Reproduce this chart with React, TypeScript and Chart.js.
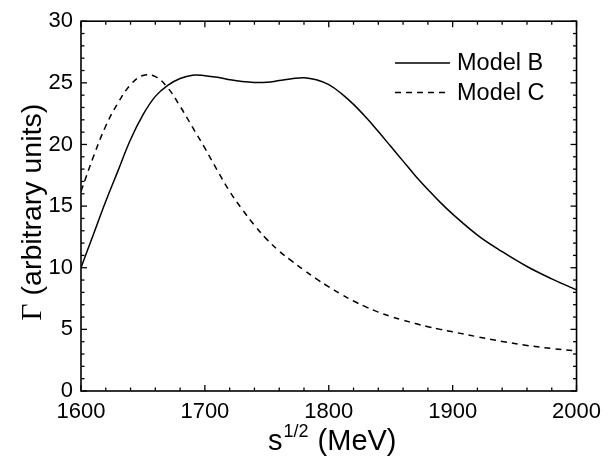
import React, { useEffect, useRef } from "react";
import { Chart, registerables } from "chart.js";

Chart.register(...registerables);

// ---- data ----
const energies = [
  1600, 1610, 1620, 1630, 1640, 1650, 1660, 1670, 1680, 1690, 1700, 1710, 1720,
  1730, 1740, 1750, 1760, 1770, 1780, 1790, 1800, 1810, 1820, 1830, 1840, 1850,
  1860, 1870, 1880, 1890, 1900, 1920, 1940, 1960, 1980, 2000,
];
const modelB = [
  10.0, 12.7, 15.4, 17.9, 20.4, 22.4, 23.9, 24.8, 25.35, 25.62, 25.58, 25.45, 25.25,
  25.1, 25.03, 25.05, 25.18, 25.33, 25.42, 25.25, 24.85, 24.15, 23.25, 22.2, 21.05, 19.85,
  18.65, 17.45, 16.35, 15.3, 14.35, 12.65, 11.3, 10.1, 9.1, 8.2,
];
const modelC = [
  16.2, 19.0, 21.5, 23.4, 24.85, 25.6, 25.5, 24.6, 23.1, 21.4, 19.7, 17.9, 16.2,
  14.75, 13.45, 12.3, 11.35, 10.55, 9.8, 9.1, 8.45, 7.85, 7.3, 6.82, 6.4, 6.05,
  5.75, 5.47, 5.22, 5.0, 4.8, 4.4, 4.02, 3.7, 3.45, 3.25,
];
const seriesLabels = ["Model B", "Model C"];
const xMajorTicks = [1600, 1700, 1800, 1900, 2000];
const xMinorStep = 20;
const yMajorTicks = [0, 5, 10, 15, 20, 25, 30];
const yMinorStep = 1;
const xTitleMain = "s";
const xTitleSup = "1/2";
const xTitleRest = " (MeV)";
const yTitleSymbol = "Γ";
const yTitleRest = " (arbitrary units)";

const SANS = "'Liberation Sans', Arial, sans-serif";
const SERIF = "'Liberation Serif', 'Times New Roman', serif";

const decor = {
  id: "decor",
  afterDraw(chart: any) {
    const { ctx, chartArea: a, scales } = chart;
    const xs = scales.x;
    const ys = scales.y;
    ctx.save();
    ctx.strokeStyle = "#000";
    ctx.lineWidth = 1.6;
    ctx.setLineDash([]);
    ctx.strokeRect(a.left, a.top, a.right - a.left, a.bottom - a.top);

    const seg = (x1: number, y1: number, x2: number, y2: number) => {
      ctx.beginPath();
      ctx.moveTo(x1, y1);
      ctx.lineTo(x2, y2);
      ctx.stroke();
    };
    ctx.lineWidth = 1.3;
    const xMin = xMajorTicks[0];
    const xMax = xMajorTicks[xMajorTicks.length - 1];
    for (let v = xMin; v <= xMax + 1e-6; v += xMinorStep) {
      const px = xs.getPixelForValue(v);
      const major = xMajorTicks.includes(v);
      const len = major ? 6 : 3.5;
      seg(px, a.bottom, px, a.bottom - len);
      seg(px, a.top, px, a.top + len);
    }
    const yMin = yMajorTicks[0];
    const yMax = yMajorTicks[yMajorTicks.length - 1];
    for (let v = yMin; v <= yMax + 1e-6; v += yMinorStep) {
      const py = ys.getPixelForValue(v);
      const major = yMajorTicks.includes(v);
      const len = major ? 6 : 3.5;
      seg(a.left, py, a.left + len, py);
      seg(a.right, py, a.right - len, py);
    }

    // legend
    ctx.fillStyle = "#000";
    ctx.textBaseline = "middle";
    ctx.textAlign = "left";
    ctx.font = `23.5px ${SANS}`;
    chart.data.datasets.forEach((ds: any, i: number) => {
      const ly = 63 + i * 29.5;
      ctx.lineWidth = 1.5;
      ctx.setLineDash(ds.borderDash || []);
      seg(395, ly, 450, ly);
      ctx.setLineDash([]);
      ctx.fillText(ds.label, 457, ly + 1);
    });

    // x title
    ctx.textBaseline = "alphabetic";
    const fMain = `29px ${SANS}`;
    const fSup = `18px ${SANS}`;
    ctx.font = fMain;
    const wS = ctx.measureText(xTitleMain).width;
    const wRest = ctx.measureText(xTitleRest).width;
    ctx.font = fSup;
    const wSup = ctx.measureText(xTitleSup).width;
    const total = wS + wSup + 2 + wRest;
    const cx = (a.left + a.right) / 2 + 3.5;
    let tx = cx - total / 2;
    const base = 450;
    ctx.font = fMain;
    ctx.fillText(xTitleMain, tx, base);
    tx += wS + 1;
    ctx.font = fSup;
    ctx.fillText(xTitleSup, tx, base - 13);
    tx += wSup + 1;
    ctx.font = fMain;
    ctx.fillText(xTitleRest, tx, base);

    // y title
    ctx.save();
    ctx.translate(41, (a.top + a.bottom) / 2 + 6);
    ctx.rotate(-Math.PI / 2);
    ctx.font = `29.5px ${SERIF}`;
    const wG = ctx.measureText(yTitleSymbol).width;
    ctx.font = `28.5px ${SANS}`;
    const wR = ctx.measureText(yTitleRest).width;
    let ty = -(wG + wR) / 2;
    ctx.font = `29.5px ${SERIF}`;
    ctx.fillText(yTitleSymbol, ty, 0);
    ty += wG;
    ctx.font = `28.5px ${SANS}`;
    ctx.fillText(yTitleRest, ty, 0);
    ctx.restore();

    ctx.restore();
  },
};

export default function App() {
  const ref = useRef<HTMLCanvasElement | null>(null);
  useEffect(() => {
    if (!ref.current) return;
    const chart = new Chart(ref.current, {
      type: "line",
      data: {
        datasets: [
          {
            label: seriesLabels[0],
            data: energies.map((x, i) => ({ x, y: modelB[i] })),
            borderColor: "#000",
            borderWidth: 1.5,
            pointRadius: 0,
            tension: 0.4,
            fill: false,
          },
          {
            label: seriesLabels[1],
            data: energies.map((x, i) => ({ x, y: modelC[i] })),
            borderColor: "#000",
            borderWidth: 1.5,
            borderDash: [6, 5],
            pointRadius: 0,
            tension: 0.4,
            fill: false,
          },
        ],
      },
      options: {
        responsive: false,
        animation: false,
        devicePixelRatio: 1,
        layout: { padding: { top: 21, right: 29, left: 0, bottom: 0 } },
        plugins: { legend: { display: false }, tooltip: { enabled: false } },
        scales: {
          x: {
            type: "linear",
            min: xMajorTicks[0],
            max: xMajorTicks[xMajorTicks.length - 1],
            afterBuildTicks: (s: any) => {
              s.ticks = xMajorTicks.map((v) => ({ value: v }));
            },
            afterFit: (s: any) => {
              s.height = 65;
            },
            grid: { display: false, drawTicks: false },
            border: { display: false },
            ticks: {
              padding: 8,
              color: "#000",
              font: { family: SANS, size: 22 },
              maxRotation: 0,
              callback: (v: any) => String(v),
            },
          },
          y: {
            type: "linear",
            min: yMajorTicks[0],
            max: yMajorTicks[yMajorTicks.length - 1],
            afterBuildTicks: (s: any) => {
              s.ticks = yMajorTicks.map((v) => ({ value: v }));
            },
            afterFit: (s: any) => {
              s.width = 81;
            },
            grid: { display: false, drawTicks: false },
            border: { display: false },
            ticks: {
              padding: 8,
              color: "#000",
              font: { family: SANS, size: 22 },
              callback: (v: any) => String(v),
            },
          },
        },
      },
      plugins: [decor],
    } as any);
    return () => chart.destroy();
  }, []);
  return (
    <div style={{ position: "fixed", left: 0, top: 0, width: 609, height: 456, background: "#fff" }}>
      <canvas ref={ref} width={609} height={456} />
    </div>
  );
}
